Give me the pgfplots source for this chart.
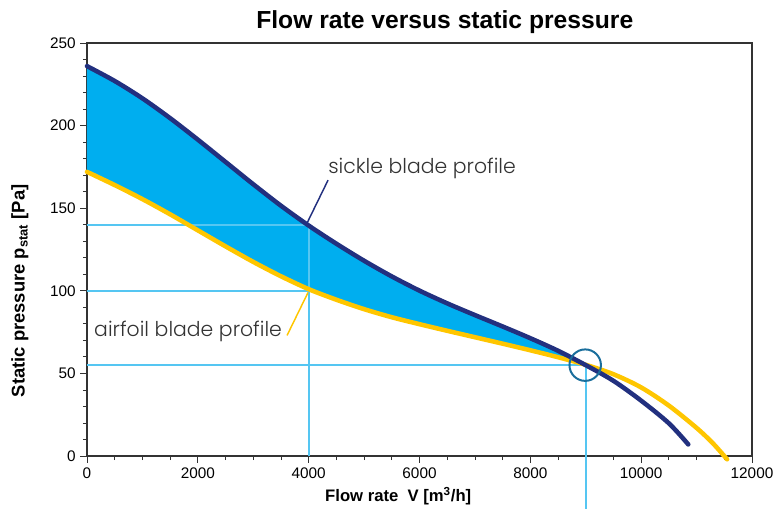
\documentclass[border=0pt]{standalone}
\usepackage{fontspec}
\setmainfont{Liberation Sans}
\newfontfamily\annfont{Poppins Light}
\usepackage{pgfplots}
\pgfplotsset{compat=1.18}
\usepgfplotslibrary{fillbetween}

\definecolor{sickle}{HTML}{22307F}
\definecolor{airfoil}{HTML}{FFC600}
\definecolor{fillc}{HTML}{00AEEF}
\definecolor{refc}{HTML}{55C6F2}
\definecolor{circc}{HTML}{1A6E9C}
\definecolor{axc}{HTML}{333333}
\definecolor{annc}{HTML}{333333}

\pgfplotstableread{
x      p
0      236
500    227
1000   216.5
1500   204.5
2000   191.5
2500   178
3000   164.5
3500   151.5
4000   139.5
4500   128.5
5000   118.2
5500   108.7
6000   100.1
6500   92.4
7000   85.3
7500   78.4
8000   71.3
8500   63.7
9000   55
9500   45.5
10000  33.5
10500  19.8
10850  7
}\sickledata

\pgfplotstableread{
x      p
0      172
500    164
1000   155.5
1500   146.3
2000   136.6
2500   126.9
3000   117.5
3500   108.8
4000   101
4500   94.6
5000   88.9
5500   84
6000   79.8
6500   75.8
7000   71.9
7500   68
8000   64
8500   59.8
9000   55.2
9500   49.5
10000  41.5
10500  30.5
11000  17
11300  7.5
11550  -2
}\airfoildata

\begin{document}
\begin{tikzpicture}
\begin{axis}[
    scale only axis,
    width=498.75pt, height=309.75pt,
    xmin=0, xmax=12000,
    ymin=0, ymax=250,
    xtick={0,2000,...,12000},
    ytick={0,50,...,250},
    minor x tick num=3,
    minor y tick num=4,
    xtick pos=bottom, ytick pos=left,
    tick align=outside,
    major tick length=5pt,
    minor tick length=3pt,
    axis line style={axc, line width=0.8pt},
    every tick/.style={axc, line width=0.6pt},
    tick label style={font=\fontsize{11.5}{13}\selectfont},
    /pgf/number format/assume math mode=true,
    /pgf/number format/1000 sep={},
    scaled x ticks=false,
    every axis title shift=0pt,
    title={Flow rate versus static pressure},
    title style={at={(axis description cs:0.538,1.036)}, anchor=base, yshift=0pt,
        font=\fontsize{18.5}{20}\selectfont\bfseries},
    xlabel={Flow rate\ \ V [m\textsuperscript{3}/h]},
    xlabel style={at={(axis description cs:0.468,-0.0969)}, anchor=center,
        font=\fontsize{12.5}{14}\selectfont\bfseries},
    ylabel={Static pressure p\textsubscript{stat} [Pa]},
    ylabel style={at={(axis description cs:-0.1008,0.40)}, anchor=center,
        font=\fontsize{13.8}{15}\selectfont\bfseries},
    clip=false,
]

\addplot[name path=sick, draw=none, forget plot, smooth] table {\sickledata};
\addplot[name path=air, draw=none, forget plot, smooth] table {\airfoildata};
\addplot[fillc, draw=none] fill between[of=sick and air, soft clip={domain=0:9000}];

% reference lines
\addplot[refc, line width=1.5pt] coordinates {(0,140) (4000,140)};
\addplot[refc, line width=1.5pt] coordinates {(0,100) (4000,100)};
\addplot[refc, line width=1.5pt] coordinates {(4000,0) (4000,140)};
\addplot[refc, line width=1.5pt] coordinates {(0,55) (9000,55)};
\addplot[refc, line width=1.5pt] coordinates {(9000,-32) (9000,55)};

% curves
\addplot[airfoil, line width=3.4pt, smooth, line cap=round] table {\airfoildata};
\addplot[sickle, line width=3.4pt, smooth, line cap=round] table {\sickledata};

% leader lines
\addplot[sickle, line width=1.1pt] coordinates {(4350,167) (3971,141)};
\addplot[airfoil, line width=1.1pt] coordinates {(3610,73) (3989,99)};

% circle round the crossing
\addplot[only marks, mark=o, mark size=11.8pt,
    mark options={draw=circc, line width=1.5pt}] coordinates {(8990,55)};

\node[anchor=west, inner sep=0pt, text=annc, font=\annfont\fontsize{15.3}{17}\selectfont]
    at (axis cs:4350,174) {sickle blade profile};
\node[anchor=west, inner sep=0pt, text=annc, font=\annfont\fontsize{15.3}{17}\selectfont]
    at (axis cs:126,75.7) {airfoil blade profile};

\coordinate (bl) at (rel axis cs:0,0);
\coordinate (tr) at (rel axis cs:1,1);
\end{axis}
\pgfresetboundingbox
\path[use as bounding box] ([shift={(-65.25pt,-39pt)}]bl) rectangle ([shift={(16.5pt,32.25pt)}]tr);
\end{tikzpicture}
\end{document}
